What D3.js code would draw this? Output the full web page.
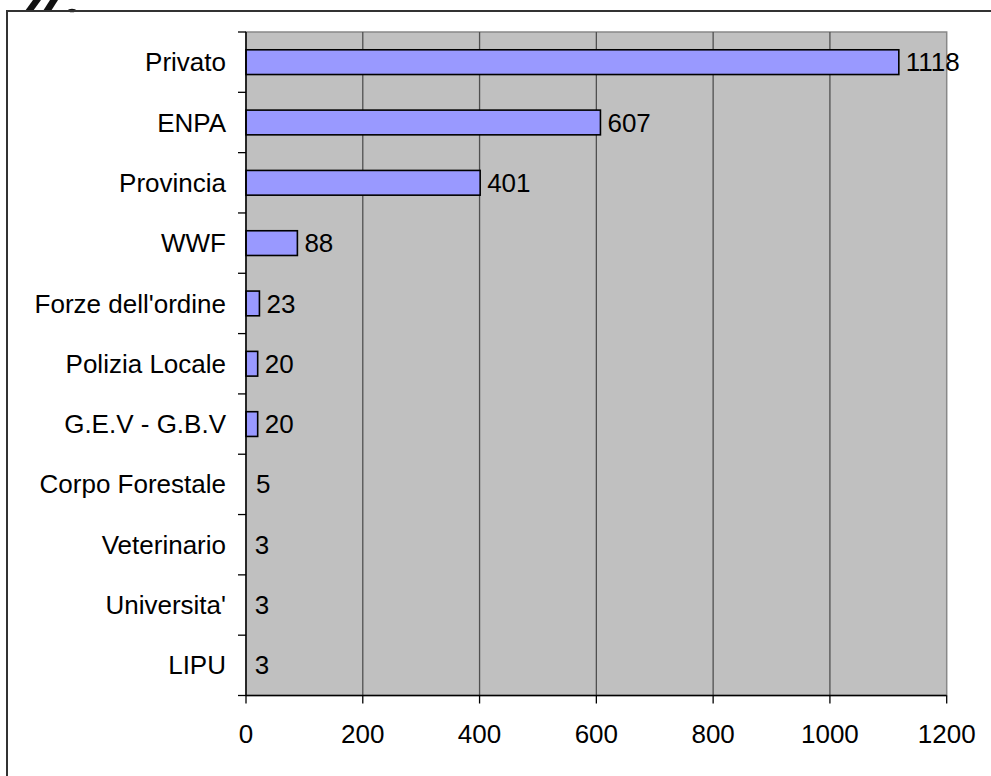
<!DOCTYPE html>
<html>
<head>
<meta charset="utf-8">
<script src="https://d3js.org/d3.v7.min.js"></script>
<style>
  body { margin: 0; background: #fff; }
  svg text { font-family: "Liberation Sans", Arial, sans-serif; fill: #000; }
</style>
</head>
<body>
<div id="chart"></div>
<script>
// data
var categories = ["Privato", "ENPA", "Provincia", "WWF", "Forze dell'ordine",
                  "Polizia Locale", "G.E.V - G.B.V", "Corpo Forestale",
                  "Veterinario", "Universita'", "LIPU"];
var values = [1118, 607, 401, 88, 23, 20, 20, 5, 3, 3, 3];
var xTicks = [0, 200, 400, 600, 800, 1000, 1200];

var W = 991, H = 776;
var plot = {left: 246, right: 946.7, top: 32, bottom: 695.5};
var fontSize = "26px";

var svg = d3.select("#chart").append("svg")
  .attr("width", W).attr("height", H);

// scrap of lettering cut off above the frame
var scrap = svg.append("g").attr("fill", "#111");
scrap.append("path").attr("d", "M25,11 L33,11 L41,0 L33,0 Z");
scrap.append("path").attr("d", "M43,11 L51,11 L58,0 L50,0 Z");
scrap.append("ellipse").attr("cx", 72).attr("cy", 10.5).attr("rx", 4).attr("ry", 1.8);

// outer frame (runs off the right and bottom)
svg.append("rect")
  .attr("x", 7).attr("y", 11)
  .attr("width", W + 20).attr("height", H + 20)
  .attr("fill", "none").attr("stroke", "#333").attr("stroke-width", 2);

var x = d3.scaleLinear().domain([0, 1200]).range([plot.left, plot.right]);
var y = d3.scaleBand().domain(categories)
  .range([plot.top, plot.bottom])
  .paddingInner(0.59).paddingOuter(0.295);
var edge = d3.scaleLinear().domain([0, categories.length]).range([plot.top, plot.bottom]);

// plot background
svg.append("rect")
  .attr("x", plot.left).attr("y", plot.top)
  .attr("width", plot.right - plot.left).attr("height", plot.bottom - plot.top)
  .attr("fill", "#c0c0c0").attr("stroke", "#888").attr("stroke-width", 1.5);

// gridlines
svg.append("g").selectAll("line")
  .data(xTicks.slice(1, -1))
  .enter().append("line")
  .attr("x1", function(d) { return x(d); }).attr("x2", function(d) { return x(d); })
  .attr("y1", plot.top).attr("y2", plot.bottom)
  .attr("stroke", "#505050").attr("stroke-width", 1.3);

// bars (the very thin ones vanish into the axis, as in the original)
svg.append("g").selectAll("rect")
  .data(values)
  .enter().append("rect")
  .attr("x", x(0))
  .attr("y", function(d, i) { return y(categories[i]); })
  .attr("width", function(d) { return x(d) - x(0); })
  .attr("height", y.bandwidth())
  .attr("fill", "#9999ff")
  .attr("stroke", "#000").attr("stroke-width", 1.6)
  .style("opacity", function(d) { return x(d) - x(0) < 4 ? 0 : 1; });

// value labels
svg.append("g").selectAll("text")
  .data(values)
  .enter().append("text")
  .attr("x", function(d) { return x(d) + 7; })
  .attr("y", function(d, i) { return y(categories[i]) + y.bandwidth() / 2; })
  .attr("dy", "0.35em")
  .style("font-size", fontSize)
  .text(function(d) { return d; });

// y axis
svg.append("line")
  .attr("x1", plot.left).attr("x2", plot.left)
  .attr("y1", plot.top).attr("y2", plot.bottom)
  .attr("stroke", "#000").attr("stroke-width", 1.5);
svg.append("g").selectAll("line")
  .data(d3.range(categories.length + 1))
  .enter().append("line")
  .attr("x1", plot.left - 8).attr("x2", plot.left)
  .attr("y1", function(d) { return edge(d); }).attr("y2", function(d) { return edge(d); })
  .attr("stroke", "#000").attr("stroke-width", 1.3);
svg.append("g").selectAll("text")
  .data(categories)
  .enter().append("text")
  .attr("x", 226)
  .attr("y", function(d) { return y(d) + y.bandwidth() / 2; })
  .attr("dy", "0.35em")
  .attr("text-anchor", "end")
  .style("font-size", fontSize)
  .text(function(d) { return d; });

// x axis
svg.append("line")
  .attr("x1", plot.left).attr("x2", plot.right)
  .attr("y1", plot.bottom).attr("y2", plot.bottom)
  .attr("stroke", "#000").attr("stroke-width", 1.5);
svg.append("g").selectAll("line")
  .data(xTicks)
  .enter().append("line")
  .attr("x1", function(d) { return x(d); }).attr("x2", function(d) { return x(d); })
  .attr("y1", plot.bottom).attr("y2", plot.bottom + 8)
  .attr("stroke", "#000").attr("stroke-width", 1.3);
svg.append("g").selectAll("text")
  .data(xTicks)
  .enter().append("text")
  .attr("x", function(d) { return x(d); })
  .attr("y", 743)
  .attr("text-anchor", "middle")
  .style("font-size", fontSize)
  .text(function(d) { return d; });
</script>
</body>
</html>
